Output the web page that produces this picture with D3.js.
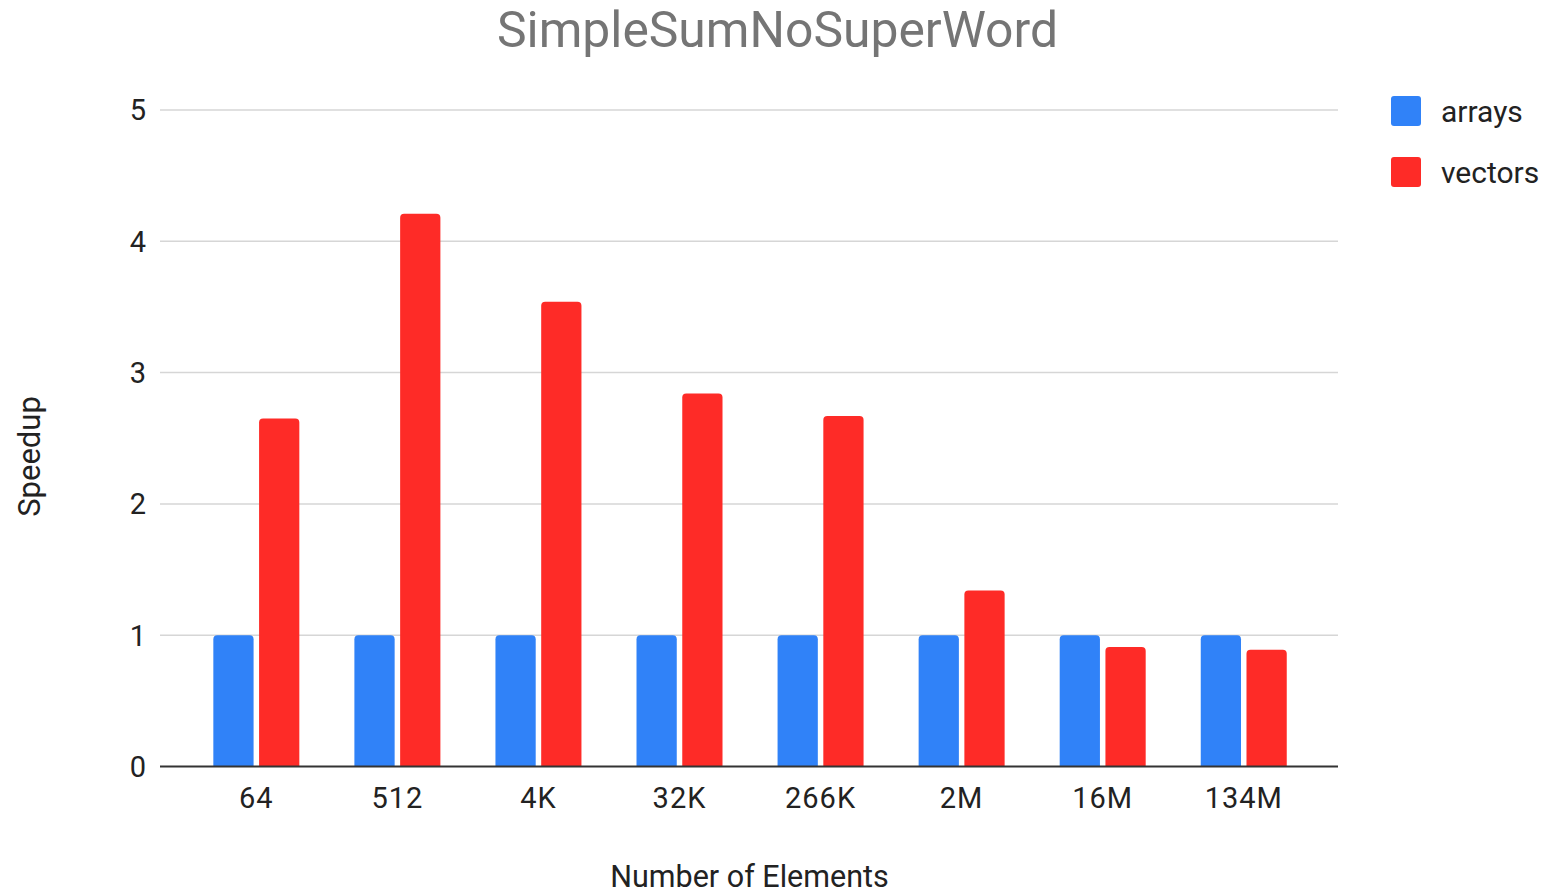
<!DOCTYPE html>
<html>
<head>
<meta charset="utf-8">
<script src="https://cdn.jsdelivr.net/npm/d3@7"></script>
<style>
  html, body { margin: 0; padding: 0; background: #fff; }
  svg { display: block; font-family: Roboto, "Liberation Sans", Arial, sans-serif; }
</style>
</head>
<body>
<svg id="chart" width="1545" height="894"></svg>
<script>
// Element counts along the x axis
const categories = ["64", "512", "4K", "32K", "266K", "2M", "16M", "134M"];
// Speedup relative to the array baseline
const arrays  = [1, 1, 1, 1, 1, 1, 1, 1];
const vectors = [2.65, 4.21, 3.54, 2.84, 2.67, 1.34, 0.91, 0.89];
const seriesNames = ["arrays", "vectors"];
const yTicks = [0, 1, 2, 3, 4, 5];

const colors = { arrays: "#3082f8", vectors: "#fe2b27" };

const svg = d3.select("#chart");

const plot = { left: 160, right: 1338, top: 110, bottom: 766.5 };

const x = d3.scaleBand()
  .domain(categories)
  .range([185.8, 185.8 + 8 * 141.06])
  .paddingInner(0).paddingOuter(0);

const inner = d3.scaleBand()
  .domain(seriesNames)
  .range([-43, 43])
  .paddingInner(0.12);

const y = d3.scaleLinear().domain([0, 5]).range([plot.bottom, plot.top]);

// Horizontal gridlines
svg.append("g")
  .selectAll("line")
  .data(yTicks.filter(d => d !== 0))
  .join("line")
  .attr("x1", plot.left).attr("x2", plot.right)
  .attr("y1", d => y(d)).attr("y2", d => y(d))
  .attr("stroke", "#d6d6d6").attr("stroke-width", 1.5);

// Y tick labels
svg.append("g")
  .selectAll("text")
  .data(yTicks)
  .join("text")
  .attr("x", 146)
  .attr("y", d => y(d))
  .attr("dy", "0.36em")
  .attr("text-anchor", "end")
  .attr("font-size", 29)
  .attr("fill", "#222")
  .text(d => d);

// Rounded-top bar path
function barPath(x0, w, yTop, yBase, r) {
  r = Math.min(r, w / 2, (yBase - yTop));
  return `M${x0},${yBase}V${yTop + r}Q${x0},${yTop} ${x0 + r},${yTop}` +
         `H${x0 + w - r}Q${x0 + w},${yTop} ${x0 + w},${yTop + r}V${yBase}Z`;
}

const rows = categories.map((c, i) => ({ cat: c, arrays: arrays[i], vectors: vectors[i] }));

const groups = svg.append("g")
  .selectAll("g")
  .data(rows)
  .join("g")
  .attr("transform", d => `translate(${x(d.cat) + x.bandwidth() / 2},0)`);

groups.selectAll("path")
  .data(d => seriesNames.map(s => ({ s, v: d[s] })))
  .join("path")
  .attr("d", d => barPath(inner(d.s), inner.bandwidth(), y(d.v), y(0), 4))
  .attr("fill", d => colors[d.s]);

// Baseline
svg.append("line")
  .attr("x1", plot.left).attr("x2", plot.right)
  .attr("y1", y(0)).attr("y2", y(0))
  .attr("stroke", "#333").attr("stroke-width", 2);

// X tick labels
svg.append("g")
  .selectAll("text")
  .data(categories)
  .join("text")
  .attr("x", d => x(d) + x.bandwidth() / 2)
  .attr("y", 808)
  .attr("text-anchor", "middle")
  .attr("font-size", 29)
  .attr("letter-spacing", 1)
  .attr("fill", "#222")
  .text(d => d);

// Title
svg.append("text")
  .attr("x", 777.5).attr("y", 47)
  .attr("text-anchor", "middle")
  .attr("font-size", 49.8)
  .attr("fill", "#757575")
  .text("SimpleSumNoSuperWord");

// Axis titles
svg.append("text")
  .attr("x", 749.5).attr("y", 887)
  .attr("text-anchor", "middle")
  .attr("font-size", 30.5)
  .attr("fill", "#222")
  .text("Number of Elements");

svg.append("text")
  .attr("transform", "translate(40,456.5) rotate(-90)")
  .attr("text-anchor", "middle")
  .attr("font-size", 31)
  .attr("fill", "#222")
  .text("Speedup");

// Legend
const legend = svg.append("g")
  .selectAll("g")
  .data(seriesNames)
  .join("g")
  .attr("transform", (d, i) => `translate(1391,${96 + i * 61})`);

legend.append("rect")
  .attr("width", 30).attr("height", 30).attr("rx", 3)
  .attr("fill", d => colors[d]);

legend.append("text")
  .attr("x", 50).attr("y", 15)
  .attr("dy", "0.36em")
  .attr("font-size", 30)
  .attr("fill", "#222")
  .text(d => d);
</script>
</body>
</html>
